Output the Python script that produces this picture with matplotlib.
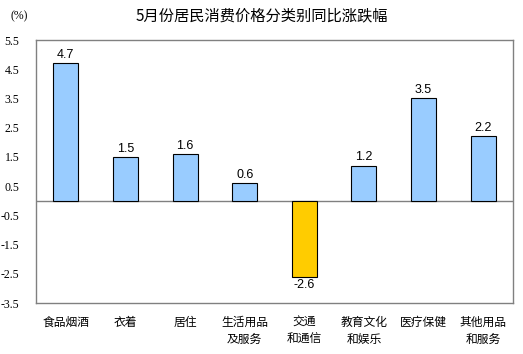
import matplotlib
matplotlib.use("Agg")
import matplotlib.pyplot as plt

plt.rcParams['font.family'] = ['Noto Sans CJK SC', 'DejaVu Sans']

# data
categories = ["食品烟酒", "衣着", "居住", "生活用品\n及服务", "交通\n和通信",
              "教育文化\n和娱乐", "医疗保健", "其他用品\n和服务"]
values = [4.7, 1.5, 1.6, 0.6, -2.6, 1.2, 3.5, 2.2]
yticks = [5.5, 4.5, 3.5, 2.5, 1.5, 0.5, -0.5, -1.5, -2.5, -3.5]

fig = plt.figure(figsize=(5.23, 3.54), dpi=100)
ax = fig.add_axes([0.0688, 0.144, 0.9122, 0.743])

colors = ["#99CCFF" if v >= 0 else "#FFCC00" for v in values]
x = range(len(values))
ax.bar(x, values, width=0.42, color=colors, edgecolor="black", linewidth=0.8, zorder=3)

# value labels
for i, v in enumerate(values):
    off = 0.08 if v >= 0 else -0.08
    ax.text(i, v + off, "%.1f" % v, ha="center", va="bottom" if v >= 0 else "top",
            fontsize=9, family="Liberation Sans")

ax.axhline(0, color="#808080", linewidth=1, zorder=2)
ax.set_xlim(-0.5, len(values) - 0.5)
ax.set_ylim(-3.5, 5.5)
ax.set_yticks(yticks)
ax.set_yticklabels(["%.1f" % t for t in yticks], family="Liberation Serif", fontsize=8.5)
ax.set_xticks(list(x))
ax.set_xticklabels(categories, fontsize=8.5, linespacing=1.45)
ax.tick_params(axis="both", length=0)
ax.tick_params(axis="x", pad=9)
ax.tick_params(axis="y", pad=12)
for s in ax.spines.values():
    s.set_color("#808080")
    s.set_linewidth(1)

fig.text(0.5, 0.955, "5月份居民消费价格分类别同比涨跌幅", ha="center", va="center", fontsize=11)
fig.text(0.037, 0.953, "(%)", ha="center", va="center", fontsize=8.5, family="Liberation Serif")

fig.savefig("out.png", dpi=100)
